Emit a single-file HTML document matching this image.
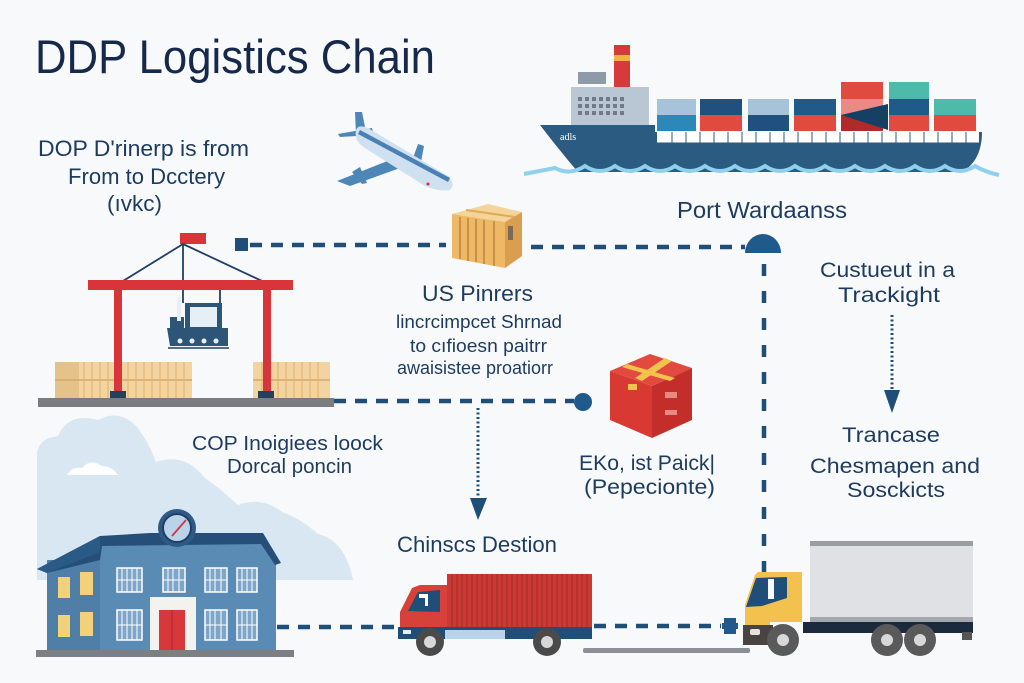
<!DOCTYPE html>
<html><head><meta charset="utf-8"><style>
html,body{margin:0;padding:0;background:#f8f9fb;}
svg{display:block;}
text{font-family:"Liberation Sans",sans-serif;fill:#1d3b5f;}
</style></head><body>
<svg width="1024" height="683" viewBox="0 0 1024 683" xmlns="http://www.w3.org/2000/svg">
<rect width="1024" height="683" fill="#f8f9fb"/>

<!-- Title -->
<text x="35" y="73" font-size="47" textLength="400" lengthAdjust="spacingAndGlyphs" style="fill:#16294a">DDP Logistics Chain</text>

<!-- left intro text -->
<text x="38" y="156" font-size="22" textLength="211" lengthAdjust="spacingAndGlyphs">DOP D'rinerp is from</text>
<text x="68" y="184" font-size="22" textLength="157" lengthAdjust="spacingAndGlyphs">From to Dcctery</text>
<text x="107" y="211" font-size="22" textLength="55" lengthAdjust="spacingAndGlyphs">(ıvkc)</text>

<!-- Airplane -->
<g>
  <path d="M337,181 L390,160 L400,168 L350,186 Z" fill="#4e86b8"/>
  <path d="M352,172 L360,167 L367,183 L362,184 Z" fill="#4e86b8"/>
  <path d="M338,134 L372,128 L374,135 L340,137 Z" fill="#4e86b8"/>
  <path d="M355,112 L362,112 L366,132 L356,134 Z" fill="#4e86b8"/>
  <path d="M413,158 L418,144 L424,146 L421,162 Z" fill="#4e86b8"/>
  <path d="M356,130 Q358,124 368,128 L448,176 Q456,184 450,190 Q440,192 425,186 L362,146 Q354,140 356,130 Z" fill="#cfe0f0"/>
  <path d="M358,134 L448,182 L450,178 L360,130 Z" fill="#4a80b3"/>
  <circle cx="428" cy="184" r="1.5" fill="#c33"/>
</g>

<!-- Ship -->
<g>
  <rect x="614" y="45" width="16" height="44" fill="#d63a3a"/>
  <rect x="614" y="55" width="16" height="6" fill="#f0b440"/>
  <rect x="578" y="72" width="28" height="12" fill="#8e9aa8"/>
  <rect x="571" y="87" width="78" height="40" fill="#b9c6d3"/>
  <g fill="#6f7b88">
    <rect x="578" y="97" width="4" height="4"/><rect x="585" y="97" width="4" height="4"/><rect x="592" y="97" width="4" height="4"/><rect x="599" y="97" width="4" height="4"/><rect x="606" y="97" width="4" height="4"/><rect x="613" y="97" width="4" height="4"/><rect x="620" y="97" width="4" height="4"/>
    <rect x="578" y="104" width="4" height="4"/><rect x="585" y="104" width="4" height="4"/><rect x="592" y="104" width="4" height="4"/><rect x="599" y="104" width="4" height="4"/><rect x="606" y="104" width="4" height="4"/><rect x="613" y="104" width="4" height="4"/><rect x="620" y="104" width="4" height="4"/>
    <rect x="578" y="111" width="4" height="4"/><rect x="585" y="111" width="4" height="4"/><rect x="592" y="111" width="4" height="4"/><rect x="599" y="111" width="4" height="4"/><rect x="606" y="111" width="4" height="4"/><rect x="613" y="111" width="4" height="4"/><rect x="620" y="111" width="4" height="4"/>
  </g>
  <rect x="657" y="99" width="39" height="16" fill="#a7c3d9"/><rect x="657" y="115" width="39" height="16" fill="#2b88b8"/>
  <rect x="700" y="99" width="42" height="16" fill="#1f5080"/><rect x="700" y="115" width="42" height="16" fill="#e04a3f"/>
  <rect x="748" y="99" width="41" height="16" fill="#a7c3d9"/><rect x="748" y="115" width="41" height="16" fill="#1f5080"/>
  <rect x="794" y="99" width="42" height="16" fill="#1f5a8a"/><rect x="794" y="115" width="42" height="16" fill="#e04a3f"/>
  <rect x="841" y="82" width="42" height="17" fill="#e04a3f"/><rect x="841" y="99" width="42" height="16" fill="#ea8a84"/><rect x="841" y="115" width="42" height="16" fill="#b02a2a"/>
  <path d="M841,115 L888,104 L888,130 Z" fill="#163f66"/>
  <rect x="889" y="82" width="40" height="17" fill="#4dbaaa"/><rect x="889" y="99" width="40" height="16" fill="#1f5a8a"/><rect x="889" y="115" width="40" height="16" fill="#e04a3f"/>
  <rect x="934" y="99" width="42" height="16" fill="#4dbaaa"/><rect x="934" y="115" width="42" height="16" fill="#e04a3f"/>
  <path d="M540,125 L655,125 L655,132 L982,132 C982,150 976,164 962,172 L578,172 C566,158 553,142 540,125 Z" fill="#2c5b82"/>
  <rect x="657" y="132" width="322" height="11" fill="#ffffff"/>
  <g stroke="#2c5b82" stroke-width="1">
    <line x1="657" y1="143" x2="979" y2="143"/>
    <path d="M672,132V143M686,132V143M700,132V143M714,132V143M728,132V143M742,132V143M756,132V143M770,132V143M784,132V143M798,132V143M812,132V143M826,132V143M840,132V143M854,132V143M868,132V143M882,132V143M896,132V143M910,132V143M924,132V143M938,132V143M952,132V143M966,132V143"/>
  </g>
  <text x="560" y="140" font-size="10" style="fill:#fff;font-family:'Liberation Serif',serif">adls</text>
  <path d="M524,174 Q545,170 555,168 Q570,176 585,166 Q600,176 615,166 Q630,176 645,166 Q660,176 675,166 Q690,176 705,166 Q720,176 735,166 Q750,176 765,166 Q780,176 795,166 Q810,176 825,166 Q840,176 855,166 Q870,176 885,166 Q900,176 915,166 Q930,176 945,166 Q960,176 975,166 Q985,172 999,175" fill="none" stroke="#8fd0ec" stroke-width="4"/>
</g>

<text x="677" y="218" font-size="23" textLength="170" lengthAdjust="spacingAndGlyphs">Port Wardaanss</text>

<!-- top dashed connector -->
<rect x="235" y="238" width="13" height="13" fill="#1f4e79"/>
<line x1="250" y1="245" x2="446" y2="245" stroke="#1f4e79" stroke-width="4.5" stroke-dasharray="12 9"/>
<line x1="531" y1="247" x2="745" y2="247" stroke="#1f4e79" stroke-width="4.5" stroke-dasharray="12 9"/>
<path d="M745,253 A18,19 0 0 1 781,253 Z" fill="#1f5a8a"/>
<line x1="764" y1="264" x2="764" y2="572" stroke="#1f4e79" stroke-width="4.5" stroke-dasharray="12 15"/>

<!-- cardboard box -->
<g>
  <path d="M452,214 L488,204 L522,212 L505,222 Z" fill="#f5d49a"/>
  <path d="M452,214 L505,222 L505,268 L452,258 Z" fill="#eeb866"/>
  <path d="M505,222 L522,212 L522,256 L505,268 Z" fill="#d99e4e"/>
  <g stroke="#b9853e" stroke-width="1.5">
    <line x1="460" y1="217" x2="460" y2="259"/><line x1="468" y1="218" x2="468" y2="261"/><line x1="476" y1="219" x2="476" y2="262"/><line x1="484" y1="220" x2="484" y2="264"/><line x1="494" y1="221" x2="494" y2="266"/>
  </g>
  <line x1="466" y1="210" x2="515" y2="217" stroke="#e0a955" stroke-width="2"/>
  <rect x="508" y="226" width="5" height="14" fill="#7a6a55"/>
</g>

<!-- middle texts -->
<text x="422" y="301" font-size="22" textLength="111" lengthAdjust="spacingAndGlyphs">US Pinrers</text>
<text x="396" y="328" font-size="18" textLength="166" lengthAdjust="spacingAndGlyphs">lincrcimpcet Shrnad</text>
<text x="410" y="352" font-size="18" textLength="137" lengthAdjust="spacingAndGlyphs">to cıfioesn paitrr</text>
<text x="397" y="374" font-size="18" textLength="156" lengthAdjust="spacingAndGlyphs">awaisistee proatiorr</text>

<!-- right texts -->
<text x="820" y="277" font-size="21" textLength="135" lengthAdjust="spacingAndGlyphs">Custueut in a</text>
<text x="838" y="302" font-size="21" textLength="102" lengthAdjust="spacingAndGlyphs">Trackight</text>
<line x1="892" y1="315" x2="892" y2="390" stroke="#1f4e79" stroke-width="3" stroke-dasharray="2 2.5"/>
<path d="M884,390 L900,390 L892,413 Z" fill="#1f4e79"/>
<text x="842" y="442" font-size="21" textLength="98" lengthAdjust="spacingAndGlyphs">Trancase</text>
<text x="810" y="473" font-size="21" textLength="170" lengthAdjust="spacingAndGlyphs">Chesmapen and</text>
<text x="847" y="497" font-size="21" textLength="98" lengthAdjust="spacingAndGlyphs">Sosckicts</text>

<!-- Crane -->
<g>
  <rect x="180" y="233" width="26" height="11" fill="#d8343a"/>
  <line x1="183" y1="244" x2="123" y2="281" stroke="#1f3f66" stroke-width="1.8"/>
  <line x1="183" y1="244" x2="262" y2="281" stroke="#1f3f66" stroke-width="1.8"/>
  <line x1="183" y1="244" x2="183" y2="303" stroke="#1f3f66" stroke-width="1.8"/>
  <line x1="220" y1="289" x2="220" y2="303" stroke="#1f3f66" stroke-width="1.8"/>
  <g>
    <rect x="55" y="362" width="137" height="36" fill="#f3d39f"/>
    <rect x="55" y="362" width="24" height="36" fill="#e4c28a"/>
    <line x1="55" y1="380" x2="192" y2="380" stroke="#d6a868" stroke-width="1.5"/>
    <g stroke="#e0b677" stroke-width="1.2">
      <path d="M84,362V398M92,362V398M100,362V398M108,362V398M116,362V398M128,362V398M136,362V398M144,362V398M152,362V398M160,362V398M168,362V398M176,362V398M184,362V398"/>
    </g>
    <rect x="253" y="362" width="77" height="36" fill="#f3d39f"/>
    <line x1="253" y1="380" x2="330" y2="380" stroke="#d6a868" stroke-width="1.5"/>
    <g stroke="#e0b677" stroke-width="1.2">
      <path d="M262,362V398M278,362V398M286,362V398M294,362V398M302,362V398M310,362V398M318,362V398"/>
    </g>
  </g>
  <rect x="88" y="280" width="205" height="10" fill="#d8343a"/>
  <rect x="114" y="290" width="8" height="103" fill="#d8343a"/>
  <rect x="263" y="290" width="8" height="103" fill="#d8343a"/>
  <rect x="110" y="391" width="16" height="9" fill="#253f5e"/>
  <rect x="258" y="391" width="16" height="9" fill="#253f5e"/>
  <rect x="38" y="398" width="296" height="9" fill="#7a7c80"/>
  <rect x="185" y="303" width="37" height="26" fill="#2c5578"/>
  <rect x="190" y="307" width="27" height="20" fill="#e6eef6"/>
  <rect x="170" y="317" width="14" height="12" fill="#2c5578"/>
  <rect x="177" y="297" width="4" height="24" fill="#e8eef4"/>
  <path d="M167,328 L228,328 L228,346 L170,346 Z" fill="#2c5578"/>
  <g fill="#e8eef4"><circle cx="180" cy="341" r="2.5"/><circle cx="192" cy="341" r="2.5"/><circle cx="204" cy="341" r="2.5"/><circle cx="216" cy="341" r="2.5"/></g>
  <line x1="168" y1="348" x2="229" y2="348" stroke="#1f3f66" stroke-width="1.5"/>
</g>

<!-- middle dashed connector -->
<line x1="334" y1="401" x2="574" y2="401" stroke="#1f4e79" stroke-width="4.5" stroke-dasharray="12 9"/>
<circle cx="583" cy="402" r="9" fill="#1f5a8a"/>
<line x1="478" y1="408" x2="478" y2="498" stroke="#1f4e79" stroke-width="3" stroke-dasharray="2 2.5"/>
<path d="M470,498 L487,498 L478,520 Z" fill="#1f4e79"/>

<!-- red box -->
<g>
  <path d="M610,371 L650,354 L692,368 L652,386 Z" fill="#e24a40"/>
  <path d="M610,371 L652,386 L652,438 L610,420 Z" fill="#d83a33"/>
  <path d="M652,386 L692,368 L692,420 L652,438 Z" fill="#c32e2a"/>
  <path d="M627,364 L675,378 L670,381 L622,367 Z" fill="#f2c14e"/>
  <path d="M635,378 L665,358 L672,361 L642,381 Z" fill="#f2c14e"/>
  <rect x="628" y="384" width="9" height="6" fill="#f2c14e"/>
  <rect x="665" y="392" width="12" height="6" fill="#e88a84"/>
  <rect x="665" y="410" width="12" height="5" fill="#e88a84"/>
</g>
<text x="579" y="470" font-size="21" textLength="136" lengthAdjust="spacingAndGlyphs">EKo, ist Paick|</text>
<text x="584" y="494" font-size="21" textLength="131" lengthAdjust="spacingAndGlyphs">(Pepecionte)</text>

<!-- Building with cloud -->
<g>
  <path d="M37,580 L37,452 Q40,438 58,436 Q68,412 98,420 Q120,408 138,428 Q150,445 156,462 Q185,452 205,478 Q222,490 238,505 Q262,496 282,512 Q300,518 318,534 Q345,540 353,580 Z" fill="#d9e7f3"/>
  <path d="M67,475 Q72,466 82,468 Q90,458 102,466 Q112,466 118,475 Z" fill="#ffffff"/>
  <text x="192" y="450" font-size="20" textLength="191" lengthAdjust="spacingAndGlyphs">COP Inoigiees loock</text>
  <text x="227" y="473" font-size="20" textLength="125" lengthAdjust="spacingAndGlyphs">Dorcal poncin</text>
  <rect x="47" y="560" width="55" height="92" fill="#4f7ea6"/>
  <path d="M100,544 L262,544 L276,563 L276,652 L100,652 Z" fill="#5a8bb5"/>
  <path d="M37,569 L100,536 L150,533 L263,533 L281,563 L275,565 L261,544 L102,546 L100,560 L47,573 Z" fill="#254f78"/>
  <path d="M37,569 L100,536 L100,552 L47,573 Z" fill="#2a5a86"/>
  <circle cx="177" cy="528" r="19" fill="#2e5b86"/>
  <circle cx="177" cy="528" r="14" fill="#b9d4ea" stroke="#1f3f66" stroke-width="2"/>
  <line x1="172" y1="536" x2="186" y2="520" stroke="#d8343a" stroke-width="1.8"/>
  <g fill="#f3d17a">
    <rect x="58" y="577" width="12" height="21"/><rect x="80" y="572" width="13" height="23"/>
    <rect x="58" y="615" width="12" height="22"/><rect x="80" y="612" width="13" height="24"/>
  </g>
  <g fill="#7fa6c8" stroke="#ffffff" stroke-width="1.5">
    <rect x="117" y="568" width="25" height="24"/><rect x="163" y="568" width="22" height="24"/><rect x="205" y="568" width="22" height="24"/><rect x="237" y="568" width="20" height="24"/>
    <rect x="117" y="610" width="25" height="30"/><rect x="205" y="610" width="22" height="30"/><rect x="237" y="610" width="20" height="30"/>
  </g>
  <g stroke="#ffffff" stroke-width="1">
    <path d="M122,568V592M127,568V592M132,568V592M137,568V592M168,568V592M173,568V592M179,568V592M210,568V592M215,568V592M221,568V592M242,568V592M247,568V592M252,568V592"/>
    <path d="M122,610V640M127,610V640M132,610V640M137,610V640M210,610V640M215,610V640M221,610V640M242,610V640M247,610V640M252,610V640"/>
    <path d="M117,580H142M163,580H185M205,580H227M237,580H257M117,625H142M205,625H227M237,625H257"/>
  </g>
  <rect x="150" y="597" width="46" height="53" fill="#f2f2ef"/>
  <rect x="159" y="610" width="26" height="40" fill="#d8383a"/>
  <line x1="172" y1="610" x2="172" y2="650" stroke="#a62628" stroke-width="1"/>
  <rect x="36" y="650" width="258" height="7" fill="#7d7f83"/>
</g>

<!-- bottom dashed connector -->
<line x1="277" y1="627" x2="398" y2="627" stroke="#1f4e79" stroke-width="4.5" stroke-dasharray="12 9"/>
<line x1="594" y1="626" x2="721" y2="626" stroke="#1f4e79" stroke-width="4.5" stroke-dasharray="12 9"/>
<path d="M724,618 h12 v5 h2 v6 h-2 v5 h-12 v-5 h-2 v-6 h2 Z" fill="#1f5a8a"/>
<rect x="583" y="648" width="167" height="5" rx="2" fill="#8a9096"/>

<text x="397" y="552" font-size="22" textLength="160" lengthAdjust="spacingAndGlyphs">Chinscs Destion</text>

<!-- Red truck -->
<g>
  <rect x="447" y="574" width="145" height="54" fill="#c93a35"/>
  <g stroke="#a82a27" stroke-width="1">
    <path d="M452,574V628M457,574V628M462,574V628M467,574V628M472,574V628M477,574V628M482,574V628M487,574V628M492,574V628M497,574V628M502,574V628M507,574V628M512,574V628M517,574V628M522,574V628M527,574V628M532,574V628M537,574V628M542,574V628M547,574V628M552,574V628M557,574V628M562,574V628M567,574V628M572,574V628M577,574V628M582,574V628M587,574V628"/>
  </g>
  <path d="M400,628 L400,612 L412,588 L420,585 L447,585 L447,628 Z" fill="#d8403a"/>
  <path d="M408,611 L418,592 L440,590 L440,612 Z" fill="#1f4e79"/>
  <rect x="419" y="594" width="8" height="4" fill="#fff"/><rect x="425" y="594" width="3" height="12" fill="#fff"/>
  <rect x="398" y="627" width="194" height="12" fill="#1f4e79"/>
  <rect x="445" y="630" width="60" height="9" fill="#b9d4ea"/>
  <rect x="403" y="630" width="8" height="4" fill="#e8eef4"/>
  <circle cx="430" cy="642" r="14" fill="#4a4a4a"/><circle cx="430" cy="642" r="6" fill="#d8d8d8"/>
  <circle cx="547" cy="642" r="14" fill="#4a4a4a"/><circle cx="547" cy="642" r="6" fill="#d8d8d8"/>
</g>

<!-- Yellow truck -->
<g>
  <rect x="810" y="541" width="163" height="5" fill="#999ea3"/>
  <rect x="810" y="546" width="163" height="72" fill="#dfe1e4"/>
  <rect x="810" y="617" width="163" height="6" fill="#a4a8ac"/>
  <rect x="803" y="622" width="170" height="11" fill="#1c2a3d"/>
  <rect x="962" y="632" width="10" height="8" fill="#555"/>
  <path d="M745,645 L745,605 L755,575 L758,572 L802,572 L802,622 L770,622 L770,645 Z" fill="#f2c14e"/>
  <path d="M746,607 L756,578 L787,577 L787,598 L762,606 Z" fill="#1f4e79"/>
  <rect x="768" y="579" width="6" height="20" fill="#f8f9fb"/>
  <rect x="743" y="625" width="30" height="20" fill="#4a4440"/>
  <rect x="750" y="629" width="10" height="6" rx="2" fill="#e8e4d8"/>
  <circle cx="783" cy="640" r="16" fill="#5a5a5a"/><circle cx="783" cy="640" r="6" fill="#d8d8d8"/>
  <circle cx="887" cy="640" r="16" fill="#5a5a5a"/><circle cx="887" cy="640" r="6" fill="#d8d8d8"/>
  <circle cx="920" cy="640" r="16" fill="#5a5a5a"/><circle cx="920" cy="640" r="6" fill="#d8d8d8"/>
</g>
</svg>
</body></html>
